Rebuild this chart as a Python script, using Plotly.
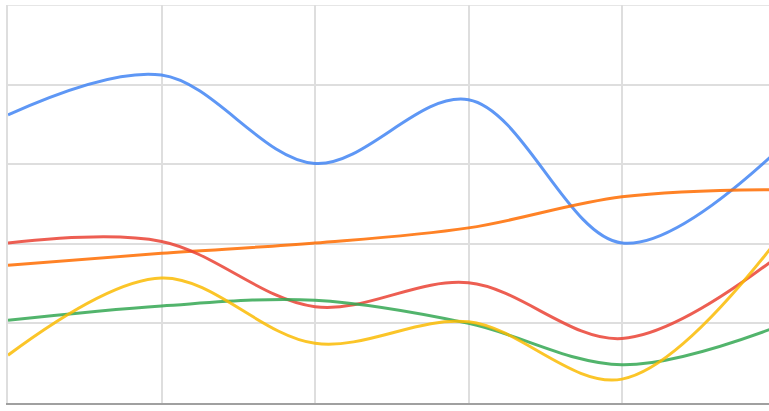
import plotly.graph_objects as go

x_vals = [0, 1, 2, 3, 4, 5]
blue_vals = [3.62, 4.12, 3.01, 3.81, 2.01, 3.15]
orange_vals = [1.73, 1.88, 2.01, 2.20, 2.59, 2.68]
red_vals = [2.01, 2.03, 1.21, 1.51, 0.81, 1.82]
green_vals = [1.04, 1.22, 1.29, 1.00, 0.48, 0.95]
yellow_vals = [0.60, 1.57, 0.75, 1.02, 0.30, 2.02]

series = [
    ("Blue", blue_vals, "#4285f4"),
    ("Orange", orange_vals, "#ff6d01"),
    ("Red", red_vals, "#ea4335"),
    ("Green", green_vals, "#34a853"),
    ("Yellow", yellow_vals, "#fbbc04"),
]

fig = go.Figure()
for name, vals, color in series:
    fig.add_trace(go.Scatter(
        x=x_vals, y=vals, name=name, mode="lines",
        line=dict(color=color, width=3, shape="spline", smoothing=1),
        opacity=0.85,
    ))

fig.add_shape(type="line", xref="paper", yref="y", x0=0, x1=1, y0=5, y1=5,
              line=dict(color="#dedede", width=1.5), layer="below")

fig.update_layout(
    width=769, height=411,
    margin=dict(l=8, r=0, t=5, b=8),
    paper_bgcolor="white", plot_bgcolor="white",
    showlegend=False,
    xaxis=dict(range=[0, 761 / 153.5], dtick=1, showgrid=True, gridcolor="#dedede",
               gridwidth=1.5, zeroline=False, showticklabels=False, ticks="",
               showline=True, linecolor="#a0a0a0", linewidth=2),
    yaxis=dict(range=[0, 5], dtick=1, showgrid=True, gridcolor="#dedede",
               gridwidth=1.5, zeroline=False, showticklabels=False, ticks="",
               showline=True, linecolor="#dedede", linewidth=1.5),
)

fig.write_html("out.html")
